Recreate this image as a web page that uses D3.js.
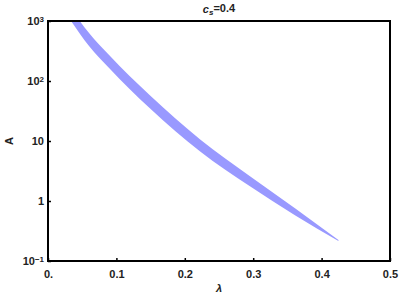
<!DOCTYPE html>
<html>
<head>
<meta charset="utf-8">
<script src="https://cdn.jsdelivr.net/npm/d3@7"></script>
<style>
  body { margin: 0; background: #fff; }
  svg text { font-family: "Liberation Sans", Arial, sans-serif; font-weight: bold; font-size: 11px; fill: #222; }
</style>
</head>
<body>
<div id="chart"></div>
<script>
var width = 399;
var height = 299;
var margin = {top: 21, right: 9, bottom: 38, left: 48};

// band: for each lambda, the upper and lower edge of A
var lambda = [0.0337, 0.0600, 0.0893, 0.1493, 0.2225, 0.2958, 0.3616, 0.4246];
var upperA = [1585,   631,    271,    57.3,   10.6,   2.56,   0.75,   0.224];
var lowerA = [1000,   383,    165,    34.8,   6.68,   1.74,   0.573,  0.215];

var xTicks = [0, 0.1, 0.2, 0.3, 0.4, 0.5];
var xTickLabels = ["0.", "0.1", "0.2", "0.3", "0.4", "0.5"];
var yTicks = [0.1, 1, 10, 100, 1000];

var svg = d3.select("#chart").append("svg")
  .attr("width", width)
  .attr("height", height);

var x = d3.scaleLinear().domain([0, 0.5]).range([margin.left, width - margin.right]);
var y = d3.scaleLog().domain([0.1, 1000]).range([height - margin.bottom, margin.top]);

svg.append("clipPath").attr("id", "clip")
  .append("rect")
  .attr("x", x(0)).attr("y", y(1000))
  .attr("width", x(0.5) - x(0)).attr("height", y(0.1) - y(1000));

var band = lambda.map(function(d, i) { return {l: d, hi: upperA[i], lo: lowerA[i]}; });

var area = d3.area()
  .x(function(d) { return x(d.l); })
  .y0(function(d) { return y(d.lo); })
  .y1(function(d) { return y(d.hi); })
  .curve(d3.curveMonotoneX);

svg.append("path")
  .datum(band)
  .attr("d", area)
  .attr("clip-path", "url(#clip)")
  .attr("fill", "#9999ff")
  .attr("stroke", "none");

// frame
svg.append("rect")
  .attr("x", x(0)).attr("y", y(1000))
  .attr("width", x(0.5) - x(0)).attr("height", y(0.1) - y(1000))
  .attr("fill", "none")
  .attr("stroke", "#000")
  .attr("stroke-width", 2);

// x axis
var xAxis = d3.axisBottom(x)
  .tickValues(xTicks)
  .tickSize(-3)
  .tickPadding(8)
  .tickFormat(function(d, i) { return xTickLabels[i]; });

var gx = svg.append("g")
  .attr("transform", "translate(0," + y(0.1) + ")")
  .call(xAxis);
gx.select(".domain").remove();
gx.selectAll("line").attr("stroke", "#000").attr("stroke-width", 1.5);
gx.selectAll("text").attr("fill", "#222").style("font-size", "11px").attr("dy", "0.85em");

// y axis
var yAxis = d3.axisLeft(y)
  .tickValues(yTicks)
  .tickSize(-3)
  .tickFormat("");

var gy = svg.append("g")
  .attr("transform", "translate(" + x(0) + ",0)")
  .call(yAxis);
gy.select(".domain").remove();
gy.selectAll("line").attr("stroke", "#000").attr("stroke-width", 1.5);

var yLab = svg.append("g").selectAll("text")
  .data(yTicks)
  .enter().append("text")
  .attr("x", x(0) - 4)
  .attr("y", function(d) { return y(d); })
  .attr("dy", "0.38em")
  .attr("text-anchor", "end");

yLab.each(function(d) {
  var t = d3.select(this);
  var p = Math.round(Math.log10(d));
  if (p === 0) { t.text("1"); return; }
  if (p === 1) { t.text("10"); return; }
  t.append("tspan").text("10");
  t.append("tspan")
    .attr("dy", "-0.45em")
    .style("font-size", "8px")
    .text(p < 0 ? "\u2212" + Math.abs(p) : p);
});

// axis labels
svg.append("text")
  .attr("transform", "translate(9," + (y(0.1) + y(1000)) / 2 + ") rotate(-90)")
  .attr("text-anchor", "middle")
  .attr("dy", "0.35em")
  .text("A");

svg.append("text")
  .attr("x", (x(0) + x(0.5)) / 2)
  .attr("y", 292)
  .attr("text-anchor", "middle")
  .style("font-style", "italic")
  .text("\u03bb");

var title = svg.append("text")
  .attr("x", (x(0) + x(0.5)) / 2)
  .attr("y", 13)
  .attr("text-anchor", "middle");
title.append("tspan").style("font-style", "italic").text("c");
title.append("tspan").attr("dy", "0.3em").style("font-size", "8px").style("font-style", "italic").text("s");
title.append("tspan").attr("dy", "-0.3em").text("=0.4");
</script>
</body>
</html>
